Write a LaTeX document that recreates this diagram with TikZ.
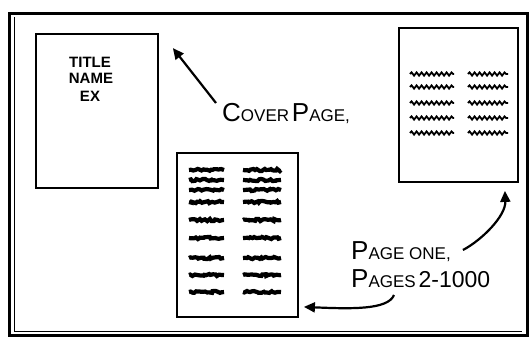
\documentclass[tikz,border=0pt]{standalone}
\usepackage{fontspec}
\setmainfont{Liberation Sans}
\usepackage{tikz}
\usetikzlibrary{positioning, arrows.meta}
\usetikzlibrary{decorations.pathmorphing}

% hand lettering: one tall capital, then smaller capitals
\newcommand{\inkcaps}[2]{{\fontsize{26}{26}\selectfont #1}{\fontsize{17}{17}\selectfont #2}}

\tikzset{
	sheet/.style={draw, line width=1.8pt, inner sep=0pt},
	pointer/.style={line width=2.2pt, -{Triangle[length=11pt, width=10pt]}},
	scribble/.style={line width=4.2pt, decorate, decoration={random steps, segment length=2pt, amplitude=1.1pt}},
	wiggle/.style={line width=1.8pt, decorate, decoration={snake, segment length=5pt, amplitude=1.6pt}},
	covertext/.style={font=\bfseries\fontsize{15}{15}\selectfont},
}

\begin{document}
\begin{tikzpicture}[x=1pt, y=-1pt]
	\useasboundingbox (0,0) rectangle (532,341);
	\pgfmathsetseed{7}
	
	% Draw outer frame
	\draw[line width=3pt] (9,13) rectangle (527,335);
	\draw[line width=0.8pt] (14,17) -- (14,331) -- (522,331);
	
	% Pages
	\node[sheet, minimum width=122pt, minimum height=154pt] (cover) at (97,111) {};
	\node[sheet, minimum width=119pt, minimum height=154pt] (first) at (458.5,105) {};
	\node[sheet, minimum width=121pt, minimum height=164pt] (rest) at (237.5,235) {};
	
	% Cover page text
	\node[covertext] (title) at (90,62) {TITLE};
	\node[covertext] (name) at (91,78) {NAME};
	\node[covertext] (ex) at (90,96) {EX};
	
	% Scribbled lines on the pages
	\foreach \y in {74,87,103,118,133} % first page
	{
		\draw[wiggle] (410,\y) -- (454,\y);
		\draw[wiggle] (468,\y) -- (508,\y);
	}
	\foreach \y in {170,180,190,202,220,238,258,275,292} % pages 2-1000
	{
		\draw[scribble] (189,\y) -- (224,\y);
		\draw[scribble] (243,\y) -- (281,\y);
	}
	
	% Labels
	\node[anchor=base west, inner sep=0pt] (coverlbl) at (222,121) {\inkcaps{C}{OVER} \inkcaps{P}{AGE,}};
	\node[anchor=base west, inner sep=0pt] (onelbl) at (351,259) {\inkcaps{P}{AGE ONE,}};
	\node[anchor=base west, inner sep=0pt] (restlbl) at (351,287) {\inkcaps{P}{AGES} {\fontsize{23}{23}\selectfont 2-1000}};
	
	% Arrows
	\coordinate (covertail) at ([shift={(-6,-18)}]coverlbl.base west);
	\coordinate (covertip) at ([shift={(14,15)}]cover.north east);
	\draw[pointer] (covertail) -- (covertip);
	
	\coordinate (onetail) at ([shift={(12,-9)}]onelbl.base east);
	\coordinate (onetip) at ([shift={(-14,8)}]first.south east);
	\draw[pointer] (onetail) .. controls +(19,-10) and +(1,25) .. (onetip);
	
	\coordinate (resttail) at ([shift={(43,8)}]restlbl.base west);
	\coordinate (resttip) at ([shift={(5,-11)}]rest.south east);
	\draw[pointer] (resttail) .. controls +(-6,15) and +(47,2) .. (resttip);
	
\end{tikzpicture}
\end{document}
